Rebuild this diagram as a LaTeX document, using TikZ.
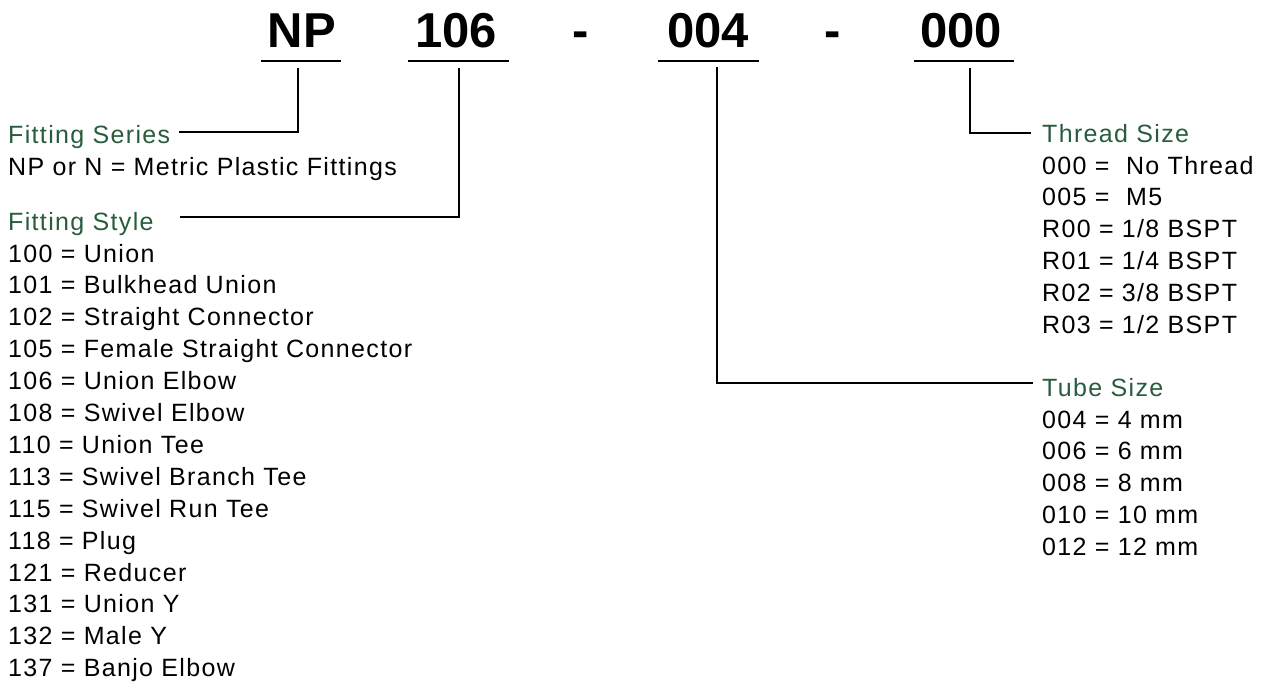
\documentclass[tikz,border=0pt]{standalone}
\usepackage{fontspec}
\setmainfont{Liberation Sans}[LetterSpace=5.4]
\newfontfamily\codefont{Liberation Sans}
\definecolor{hdgreen}{RGB}{40,92,60}

\tikzset{
  code/.style={font=\codefont\fontsize{49}{50}\selectfont\bfseries, anchor=base, inner sep=0pt},
  entry/.style={font=\fontsize{25}{30}\selectfont, anchor=base west, inner sep=0pt},
  heading/.style={entry, text=hdgreen},
  uline/.style={line width=2.8pt},
  lead/.style={line width=2.4pt},
}

\begin{document}
\begin{tikzpicture}[x=1pt,y=-1pt]
\useasboundingbox (0,0) rectangle (1271,686);
% part number
\node[code] (np) at (302,47) {NP};
\node[code] (style) at (456,47) {106};
\node[code] (dash1) at (581,47) {-};
\node[code] (tube) at (708,47) {004};
\node[code] (dash2) at (833,47) {-};
\node[code] (thread) at (961,47) {000};
\foreach \a/\b in {261/341, 408/509, 658/759, 914/1014}
    \draw[uline] (\a,61) -- (\b,61);
% fitting series
\node[heading] (serieshd) at (8,143) {Fitting Series};
\node[entry] (series0) at (8,175) {NP or N = Metric Plastic Fittings};
% fitting style
\node[heading] (stylehd) at (8,230) {Fitting Style};
\foreach \txt [count=\i from 0] in {100 = Union,101 = Bulkhead Union,
    102 = Straight Connector,105 = Female Straight Connector,
    106 = Union Elbow,108 = Swivel Elbow,110 = Union Tee,
    113 = Swivel Branch Tee,115 = Swivel Run Tee,118 = Plug,
    121 = Reducer,131 = Union Y,132 = Male Y,137 = Banjo Elbow}
    \node[entry] (style\i) at (8,{262+31.9*\i}) {\txt};
% thread size
\node[heading] (threadhd) at (1042,142) {Thread Size};
\foreach \txt [count=\i from 0] in {000 =~ No Thread,005 =~ M5,
    R00 = 1/8 BSPT,R01 = 1/4 BSPT,R02 = 3/8 BSPT,R03 = 1/2 BSPT}
    \node[entry] (thread\i) at (1042,{174+31.8*\i}) {\txt};
% tube size
\node[heading] (tubehd) at (1042,396) {Tube Size};
\foreach \txt [count=\i from 0] in {004 = 4 mm,006 = 6 mm,008 = 8 mm,
    010 = 10 mm,012 = 12 mm}
    \node[entry] (tube\i) at (1042,{428+31.8*\i}) {\txt};
% leaders
\coordinate (np-tap) at (298,68);
\coordinate (style-tap) at (459,68);
\coordinate (tube-tap) at (717,67);
\coordinate (thread-tap) at (970,68);
\coordinate (series-end) at (179,132);
\coordinate (style-end) at (180,217);
\coordinate (tube-end) at (1033,383);
\coordinate (thread-end) at (1031,133);
\draw[lead] (np-tap) |- (series-end);
\draw[lead] (style-tap) |- (style-end);
\draw[lead] (tube-tap) |- (tube-end);
\draw[lead] (thread-tap) |- (thread-end);
\end{tikzpicture}
\end{document}
